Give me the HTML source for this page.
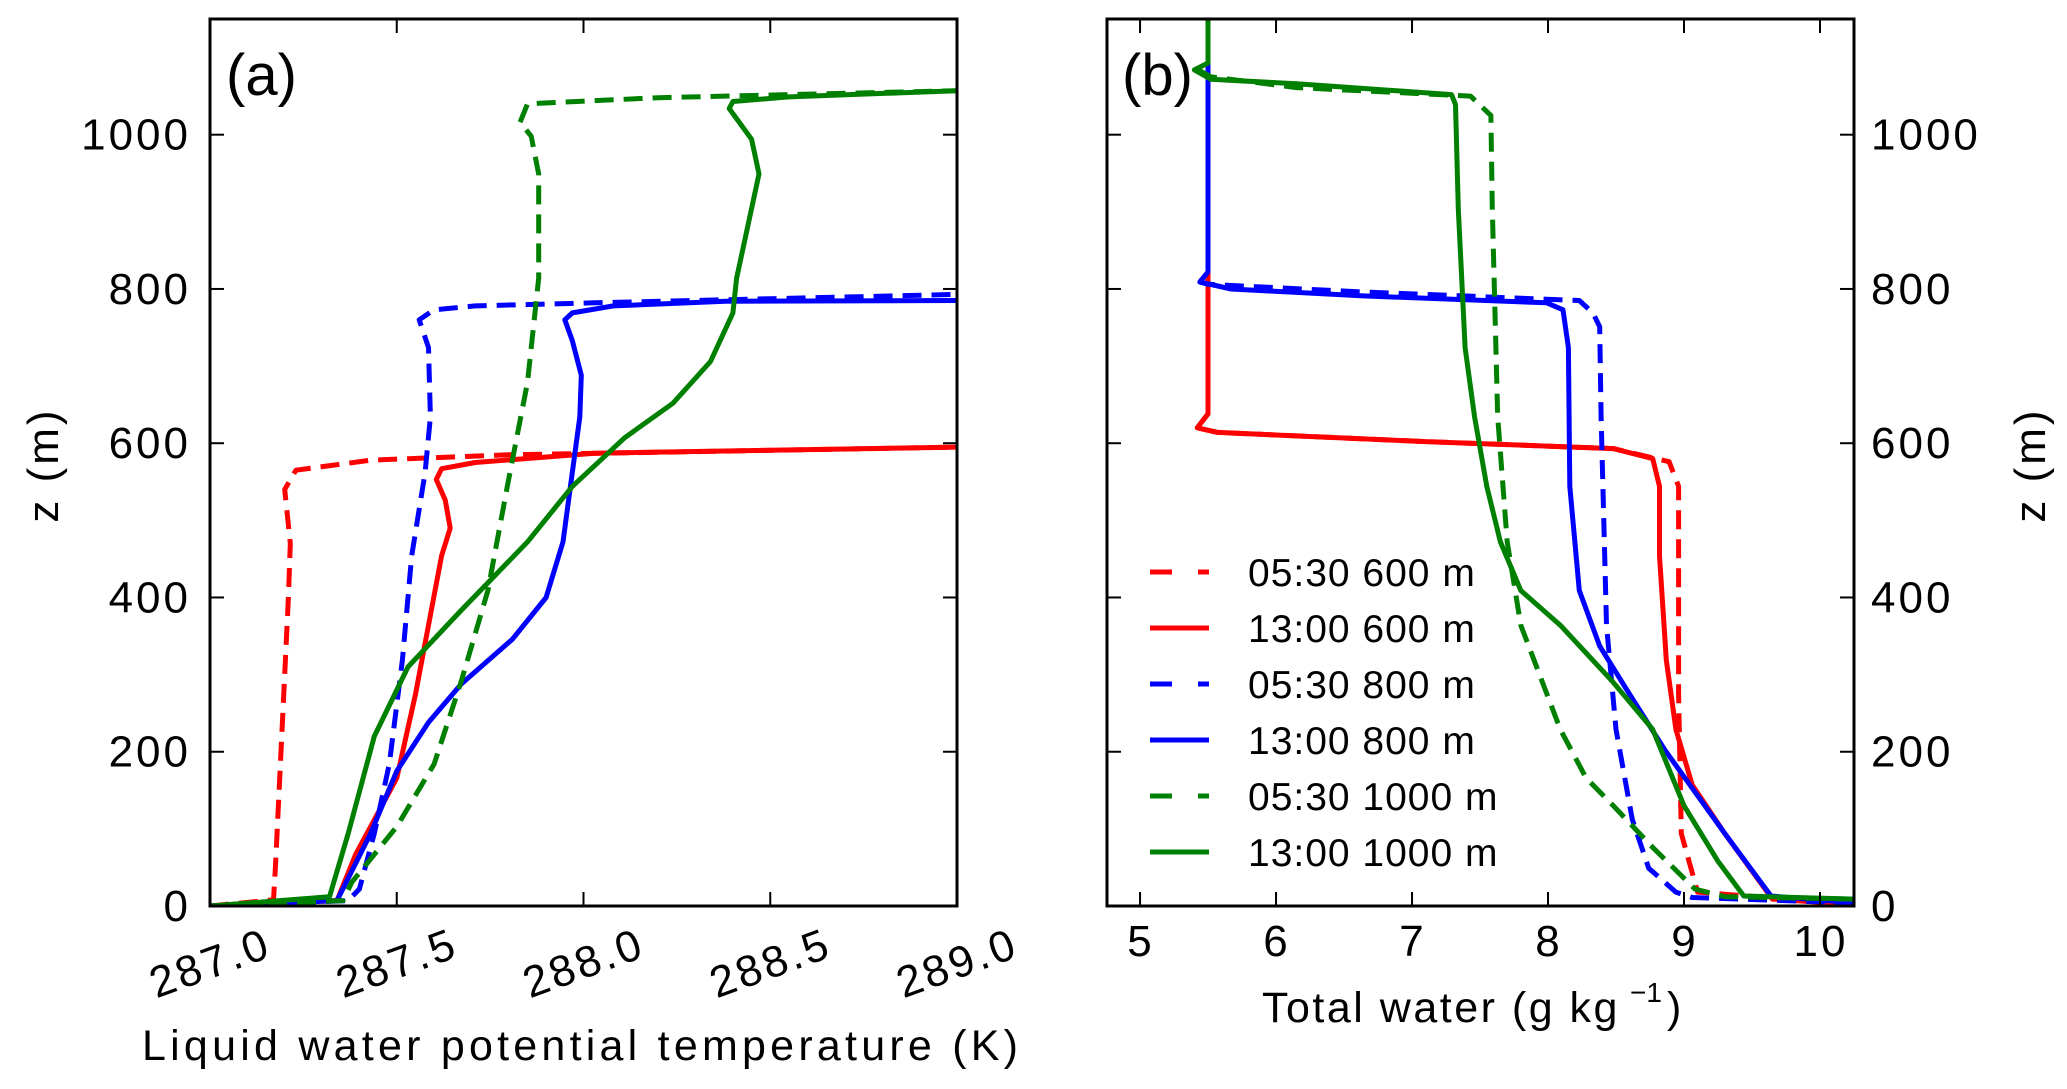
<!DOCTYPE html>
<html><head><meta charset="utf-8"><style>
html,body{margin:0;padding:0;background:#fff;}
svg{display:block;font-family:"Liberation Sans",Arial,sans-serif;}
</style></head><body>
<svg id="fig" width="2067" height="1089" viewBox="0 0 2067 1089" xmlns="http://www.w3.org/2000/svg">
<g id="pa"></g>
<g id="pb"></g>
</svg>
<script>
// ---- data (x, z) ----
const zTicks = [0,200,400,600,800,1000];
const aXTicks = [287.0,287.5,288.0,288.5,289.0];
const aXTickLabels = ["287.0","287.5","288.0","288.5","289.0"];
const bXTicks = [5,6,7,8,9,10];
const bXTickLabels = ["5","6","7","8","9","10"];
const seriesNames = ["05:30 600 m","13:00 600 m","05:30 800 m","13:00 800 m","05:30 1000 m","13:00 1000 m"];
const seriesColors = ["#ff0000","#ff0000","#0000ff","#0000ff","#008000","#008000"];
const seriesDashed = [true,false,true,false,true,false];

const aRedDash = [[287.0,0],[287.17,8],[287.175,50],[287.19,200],[287.21,400],[287.215,470],[287.2,540],[287.23,565],[287.43,578],[287.8,585],[289,595]];
const aRedSolid = [[287.0,0],[287.34,7],[287.39,67],[287.5,166],[287.55,274],[287.585,364],[287.62,454],[287.643,490],[287.63,526],[287.606,553],[287.62,567],[287.71,575],[288.03,587],[289,595]];
const aBlueDash = [[287.0,0],[287.37,7],[287.4,22],[287.44,94],[287.48,184],[287.515,319],[287.54,454],[287.576,562],[287.59,634],[287.585,724],[287.56,760],[287.6,773],[287.71,778],[288.03,782],[289,793]];
const aBlueSolid = [[287.0,0],[287.34,7],[287.43,94],[287.5,175],[287.585,238],[287.673,288],[287.81,346],[287.9,400],[287.945,472],[287.97,562],[287.99,634],[287.994,688],[287.97,733],[287.95,760],[287.97,769],[288.08,778],[288.38,784],[289,785]];
const aGreenDash = [[287.0,0],[287.356,7],[287.38,31],[287.5,103],[287.6,184],[287.673,292],[287.744,409],[287.796,544],[287.85,679],[287.88,814],[287.88,949],[287.86,998],[287.83,1016],[287.85,1040],[288.2,1048],[289,1057]];
const aGreenSolid = [[287.0,0],[287.32,12],[287.37,94],[287.44,220],[287.53,310],[287.67,382],[287.85,472],[287.97,544],[288.11,607],[288.24,652],[288.34,706],[288.4,769],[288.41,814],[288.43,859],[288.47,949],[288.45,994],[288.39,1034],[288.4,1043],[288.55,1049],[289,1057]];

const bRedDash = [[10.25,2],[9.1,18],[8.98,94],[8.96,274],[8.96,544],[8.89,576],[8.48,593],[7.12,602],[5.57,614],[5.42,620],[5.5,638],[5.5,1150]];
const bRedSolid = [[10.25,2],[9.65,9],[9.3,94],[9.06,157],[8.94,229],[8.87,319],[8.82,454],[8.82,544],[8.77,580],[8.48,593],[7.12,602],[5.57,614],[5.42,620],[5.5,638],[5.5,1150]];
const bBlueDash = [[10.25,4],[9.06,11],[8.94,18],[8.74,49],[8.62,112],[8.5,229],[8.43,364],[8.39,634],[8.38,751],[8.33,769],[8.23,785],[6.64,796],[5.5,806],[5.44,809],[5.5,822],[5.5,1150]];
const bBlueSolid = [[10.25,4],[9.64,13],[9.3,94],[8.86,202],[8.57,283],[8.38,337],[8.23,409],[8.16,544],[8.15,724],[8.11,773],[7.99,782],[6.64,791],[5.67,800],[5.44,809],[5.5,822],[5.5,1150]];
const bGreenDash = [[10.25,9],[9.3,12],[9.08,22],[8.77,76],[8.48,130],[8.28,166],[8.09,229],[7.8,364],[7.7,472],[7.63,634],[7.59,904],[7.58,1025],[7.43,1050],[6.15,1061],[5.52,1075],[5.43,1084]];
const bGreenSolid = [[10.25,9],[9.44,13],[9.25,58],[9.0,130],[8.77,229],[8.47,292],[8.09,364],[7.8,409],[7.65,472],[7.55,544],[7.46,634],[7.39,724],[7.34,904],[7.32,1039],[7.29,1052],[6.15,1066],[5.52,1072],[5.4,1084],[5.5,1093],[5.5,1150]];

const aSeries = [aRedDash,aRedSolid,aBlueDash,aBlueSolid,aGreenDash,aGreenSolid];
const bSeries = [bRedDash,bRedSolid,bBlueDash,bBlueSolid,bGreenDash,bGreenSolid];
const seriesKeys = ["0530-600","1300-600","0530-800","1300-800","0530-1000","1300-1000"];

const NS = "http://www.w3.org/2000/svg";
function mk(parent, tag, attrs, txt){
  const e = document.createElementNS(NS, tag);
  for (const k in attrs) e.setAttribute(k, attrs[k]);
  if (txt !== undefined) e.textContent = txt;
  parent.appendChild(e); return e;
}
const TOP = 19, BOT = 906, ZMAX = 1150;
function yS(z){ return BOT - z/ZMAX*(BOT-TOP); }

function panel(g, L, R, x0, x1, series, xticks, xlabels, key){
  const xS = v => L + (v-x0)/(x1-x0)*(R-L);
  const clipId = "clip"+key;
  const defs = mk(g,"defs",{});
  const cp = mk(defs,"clipPath",{id:clipId});
  mk(cp,"rect",{x:L,y:TOP,width:R-L,height:BOT-TOP});
  const lg = mk(g,"g",{"clip-path":"url(#"+clipId+")"});
  series.forEach((s,i)=>{
    const d = s.map((p,j)=>(j?"L":"M")+xS(p[0]).toFixed(1)+","+yS(p[1]).toFixed(1)).join(" ");
    const p = mk(lg,"path",{d:d,fill:"none",stroke:seriesColors[i],"stroke-width":5,"stroke-linejoin":"round"});
    if (seriesDashed[i]) p.setAttribute("stroke-dasharray","19 10");
    
    
  });
  const tg = mk(g,"g",{stroke:"#000","stroke-width":2});
  zTicks.forEach(z=>{
    const y=yS(z);
    const t1 = mk(tg,"line",{x1:L,x2:L+14,y1:y,y2:y});
    
    
    const t2 = mk(tg,"line",{x1:R,x2:R-14,y1:y,y2:y});
    
    
  });
  xticks.forEach(v=>{
    const x=xS(v);
    const t1 = mk(tg,"line",{x1:x,x2:x,y1:BOT,y2:BOT-14});
    
    
    const t2 = mk(tg,"line",{x1:x,x2:x,y1:TOP,y2:TOP+14});
    
    
  });
  const fr = mk(g,"rect",{x:L,y:TOP,width:R-L,height:BOT-TOP,fill:"none",stroke:"#000","stroke-width":3});
  
  
  return xS;
}

const pa = document.getElementById("pa");
const xA = panel(pa,210,957,287,289,aSeries,aXTicks,aXTickLabels,"a");
zTicks.forEach(z=>{
  const t = mk(pa,"text",{x:191,y:yS(z)+15,"text-anchor":"end","font-size":44,"letter-spacing":3},String(z));
  
  
});
aXTicks.forEach((v,i)=>{
  const x = xA(v);
  const t = mk(pa,"text",{x:x,y:978,"text-anchor":"middle","font-size":44,"letter-spacing":3,transform:"rotate(-20 "+x+" 963)"},aXTickLabels[i]);
  
  
});
let t;
t = mk(pa,"text",{x:580,y:1060,"text-anchor":"middle","font-size":43,textLength:876,lengthAdjust:"spacing"},"Liquid water potential temperature (K)");


t = mk(pa,"text",{x:58,y:465,"text-anchor":"middle","font-size":44,"letter-spacing":3,transform:"rotate(-90 58 465)"},"z (m)");


t = mk(pa,"text",{x:226,y:95,"font-size":58},"(a)");



const pb = document.getElementById("pb");
const xB = panel(pb,1107,1854,4.757,10.25,bSeries,bXTicks,bXTickLabels,"b");
zTicks.forEach(z=>{
  const t = mk(pb,"text",{x:1871,y:yS(z)+15,"font-size":44,"letter-spacing":3},String(z));
  
  
});
bXTicks.forEach((v,i)=>{
  const t = mk(pb,"text",{x:xB(v)+1,y:956,"text-anchor":"middle","font-size":44,"letter-spacing":3},bXTickLabels[i]);
  
  
});
t = mk(pb,"text",{x:1262,y:1022,"font-size":43,"letter-spacing":2.5},"Total water (g kg");


const sup = mk(pb,"text",{x:1630,y:1002,"font-size":28},"−1");


const cl = mk(pb,"text",{x:1667,y:1022,"font-size":43},")");


t = mk(pb,"text",{x:2045,y:465,"text-anchor":"middle","font-size":44,"letter-spacing":3,transform:"rotate(-90 2045 465)"},"z (m)");


t = mk(pb,"text",{x:1122,y:95,"font-size":58},"(b)");



const leg = mk(pb,"g",{});


seriesNames.forEach((n,i)=>{
  const y = 572 + i*56;
  const e = mk(leg,"g",{});
  
  
  const ln = mk(e,"line",{x1:1150,x2:1209,y1:y,y2:y,stroke:seriesColors[i],"stroke-width":5});
  if (seriesDashed[i]) ln.setAttribute("stroke-dasharray","22 26 11 10");
  mk(e,"text",{x:1248,y:y+14,"font-size":39,"letter-spacing":1},n);
});
</script>
</body></html>
